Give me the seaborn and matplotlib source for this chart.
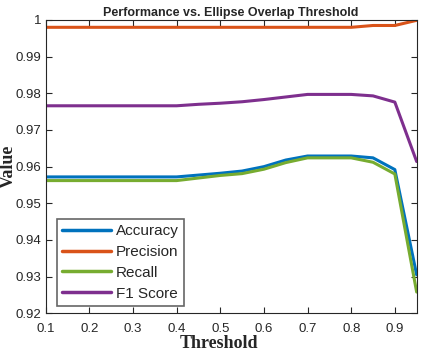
import numpy as np
import pandas as pd
import matplotlib
matplotlib.use("Agg")
import matplotlib.pyplot as plt
import seaborn as sns

thresholds = [0.10, 0.15, 0.20, 0.25, 0.30, 0.35, 0.40, 0.45, 0.50, 0.55,
              0.60, 0.65, 0.70, 0.75, 0.80, 0.85, 0.90, 0.95]
accuracy = [0.9572, 0.9572, 0.9572, 0.9572, 0.9572, 0.9572, 0.9572, 0.9577, 0.9582, 0.9588,
            0.9600, 0.9618, 0.9629, 0.9629, 0.9629, 0.9624, 0.9592, 0.9305]
precision = [0.9980, 0.9980, 0.9980, 0.9980, 0.9980, 0.9980, 0.9980, 0.9980, 0.9980, 0.9980,
             0.9980, 0.9980, 0.9980, 0.9980, 0.9980, 0.9985, 0.9985, 0.9999]
recall = [0.9562, 0.9562, 0.9562, 0.9562, 0.9562, 0.9562, 0.9562, 0.9569, 0.9576, 0.9581,
          0.9593, 0.9611, 0.9624, 0.9624, 0.9624, 0.9612, 0.9580, 0.9258]
f1_score = [0.9766, 0.9766, 0.9766, 0.9766, 0.9766, 0.9766, 0.9766, 0.9770, 0.9773, 0.9777,
            0.9783, 0.9790, 0.9797, 0.9797, 0.9797, 0.9793, 0.9776, 0.9614]
series_names = ["Accuracy", "Precision", "Recall", "F1 Score"]
x_ticks = [0.1, 0.2, 0.3, 0.4, 0.5, 0.6, 0.7, 0.8, 0.9]
y_ticks = [0.92, 0.93, 0.94, 0.95, 0.96, 0.97, 0.98, 0.99, 1.0]
y_tick_labels = ["0.92", "0.93", "0.94", "0.95", "0.96", "0.97", "0.98", "0.99", "1"]

df = pd.concat([
    pd.DataFrame({"Threshold": thresholds, "Value": vals, "Metric": name})
    for name, vals in zip(series_names, [accuracy, precision, recall, f1_score])
], ignore_index=True)

sns.set_style("white")
plt.rcParams["font.family"] = ["Liberation Sans", "DejaVu Sans"]

palette = {"Accuracy": "#0072BD", "Precision": "#D95319",
           "Recall": "#77AC30", "F1 Score": "#7E2F8E"}

fig = plt.figure(figsize=(4.23, 3.53), dpi=100)
ax = fig.add_axes([0.108, 0.1124, 0.877, 0.831])
sns.lineplot(data=df, x="Threshold", y="Value", hue="Metric", palette=palette,
             hue_order=series_names, linewidth=2.2, ax=ax)

ax.set_xlim(0.1, 0.95)
ax.set_ylim(0.92, 1.0)
ax.set_xticks(x_ticks)
ax.set_xticklabels([f"{t:.1f}" for t in x_ticks])
ax.set_yticks(y_ticks)
ax.set_yticklabels(y_tick_labels)
ax.tick_params(direction="in", length=4, width=0.8, colors="#262626",
               labelsize=9.5, top=True, right=True, bottom=True, left=True,
               labelcolor="#262626")
ax.tick_params(axis="x", pad=7)
ax.tick_params(axis="y", pad=3)
for s in ax.spines.values():
    s.set_color("#262626")
    s.set_linewidth(0.8)

ax.set_xlabel("Threshold", family=["Liberation Serif"], fontweight="bold",
              fontsize=13, labelpad=0)
ax.xaxis.set_label_coords(0.467, -0.073)
ax.set_ylabel("Value", family=["Liberation Serif"], fontweight="bold",
              fontsize=13, labelpad=-1)
ax.set_title("Performance vs. Ellipse Overlap Threshold", fontweight="bold",
             fontsize=9, pad=3)

leg = ax.legend(loc="lower left", bbox_to_anchor=(0.03, 0.025), borderaxespad=0,
                fontsize=11, frameon=True, fancybox=False, handlelength=3.2,
                handletextpad=0.3, labelspacing=0.45, borderpad=0.35)
leg.get_frame().set_edgecolor("#404040")
leg.get_frame().set_linewidth(1.2)
for line in leg.get_lines():
    line.set_linewidth(2.5)

fig.savefig("out.png", dpi=100)
